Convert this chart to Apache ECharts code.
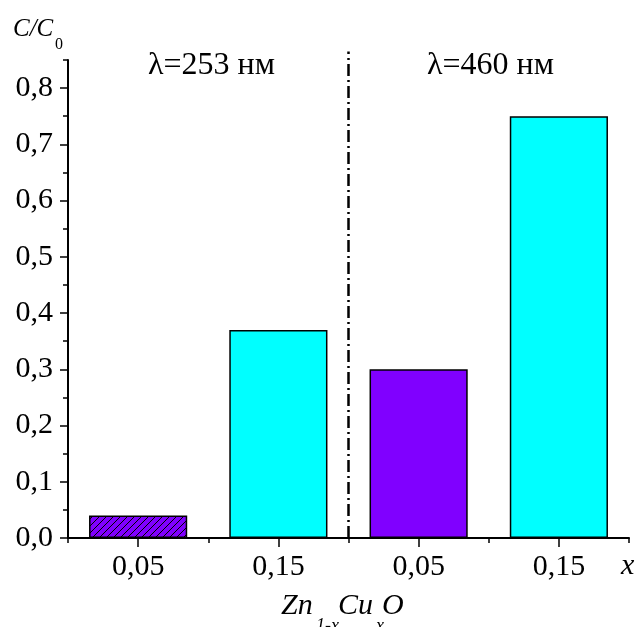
<!DOCTYPE html>
<html><head><meta charset="utf-8">
<script src="https://cdn.jsdelivr.net/npm/echarts@6/dist/echarts.min.js"></script>
<style>html,body{margin:0;padding:0;background:#fff}#c{width:640px;height:627px}</style>
</head><body><div id="c"></div>
<script>
const categories = ['0,05', '0,15', '0,05', '0,15'];
const values = [0.04, 0.37, 0.30, 0.75];
const barColors = ['#8000FF', '#00FFFF', '#8000FF', '#00FFFF'];
const hatched = [true, false, false, false];
const yMajorTicks = [0, 0.1, 0.2, 0.3, 0.4, 0.5, 0.6, 0.7, 0.8];
const dividerX = 2;          // between the two groups (value scale 0..4)
const dividerY = [0, 0.865];
const groupLabels = ['λ=253 нм', 'λ=460 нм'];

const FONT = '"Liberation Serif","Times New Roman",serif';

function hatch(color) {
  const s = 7;
  const cv = document.createElement('canvas');
  cv.width = s; cv.height = s;
  const g = cv.getContext('2d');
  g.fillStyle = color; g.fillRect(0, 0, s, s);
  g.strokeStyle = '#000'; g.lineWidth = 1;
  g.beginPath();
  g.moveTo(0, s); g.lineTo(s, 0);
  g.moveTo(-1, 1); g.lineTo(1, -1);
  g.moveTo(s - 1, s + 1); g.lineTo(s + 1, s - 1);
  g.stroke();
  return { image: cv, repeat: 'repeat' };
}

const chart = echarts.init(document.getElementById('c'));
const barData = values.map((v, i) => ({
  value: v,
  itemStyle: { color: hatched[i] ? hatch(barColors[i]) : barColors[i] }
}));

chart.setOption({
  animation: false,
  grid: { left: 68, right: 11, top: 60, bottom: 89, containLabel: false, outerBoundsMode: 'none' },
  xAxis: [
    {
      type: 'category', data: categories,
      axisLine: { lineStyle: { color: '#000', width: 2 } },
      axisTick: { show: true, alignWithLabel: false, length: 5, lineStyle: { color: '#000', width: 1.5 } },
      axisLabel: { color: '#000', fontFamily: FONT, fontSize: 30, margin: 14 },
      splitLine: { show: false }
    },
    {
      type: 'category', data: categories, position: 'bottom',
      axisLine: { show: false },
      axisTick: { show: true, alignWithLabel: true, length: 9, lineStyle: { color: '#000', width: 1.5 } },
      axisLabel: { show: false },
      splitLine: { show: false }
    },
    { type: 'value', min: 0, max: 4, show: false }
  ],
  yAxis: [
    {
      type: 'value', min: 0, max: 0.85, interval: 0.1,
      axisLine: { show: true, lineStyle: { color: '#000', width: 2 } },
      axisTick: { show: true, length: 8, customValues: yMajorTicks, lineStyle: { color: '#000', width: 1.5 } },
      axisLabel: {
        color: '#000', fontFamily: FONT, fontSize: 30, margin: 15,
        customValues: yMajorTicks,
        formatter: v => v > 0.84 ? '' : v.toFixed(1).replace('.', ',')
      },
      splitLine: { show: false }
    },
    {
      type: 'value', min: 0, max: 0.85, interval: 0.05, position: 'left',
      axisLine: { show: false },
      axisTick: { show: true, length: 5, lineStyle: { color: '#000', width: 1.5 } },
      axisLabel: { show: false },
      splitLine: { show: false }
    }
  ],
  series: [
    {
      type: 'bar', xAxisIndex: 0, yAxisIndex: 0, barWidth: '70%',
      data: barData,
      itemStyle: { borderColor: '#000', borderWidth: 1.5 }
    },
    {
      type: 'line', xAxisIndex: 2, yAxisIndex: 0, clip: false, symbol: 'none',
      data: dividerY.map(y => [dividerX, y]),
      lineStyle: { color: '#000', width: 2.5, type: [12, 4, 2, 4] }
    }
  ],
  graphic: [
    { type: 'text', left: 148, top: 50, style: { text: groupLabels[0], font: '32px ' + FONT, fill: '#000' } },
    { type: 'text', left: 427, top: 50, style: { text: groupLabels[1], font: '32px ' + FONT, fill: '#000' } },
    { type: 'text', left: 13, top: 17, style: { text: 'C/C', font: 'italic 25px ' + FONT, fill: '#000' } },
    { type: 'text', left: 55, top: 37, style: { text: '0', font: '16px ' + FONT, fill: '#000' } },
    { type: 'text', left: 621, top: 551, style: { text: 'x', font: 'italic 30px ' + FONT, fill: '#000' } },
    { type: 'text', left: 281, top: 591, style: { text: 'Zn', font: 'italic 30px ' + FONT, fill: '#000' } },
    { type: 'text', left: 316, top: 617, style: { text: '1-x', font: 'italic 18px ' + FONT, fill: '#000' } },
    { type: 'text', left: 338, top: 591, style: { text: 'Cu', font: 'italic 30px ' + FONT, fill: '#000' } },
    { type: 'text', left: 376, top: 617, style: { text: 'x', font: 'italic 18px ' + FONT, fill: '#000' } },
    { type: 'text', left: 382, top: 591, style: { text: 'O', font: 'italic 30px ' + FONT, fill: '#000' } }
  ]
});
</script>
</body></html>
